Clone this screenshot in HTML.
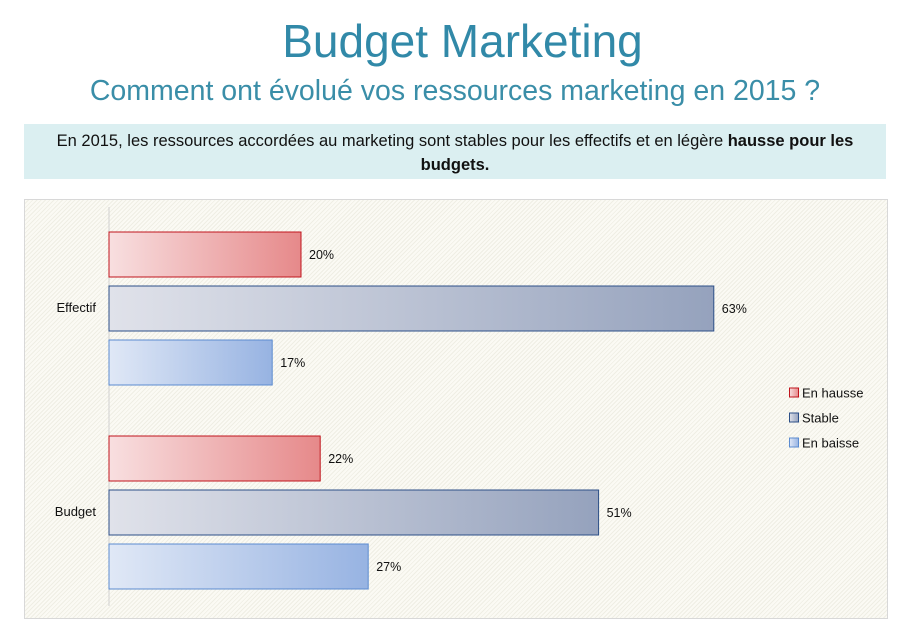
<!DOCTYPE html>
<html><head><meta charset="utf-8"><style>
body{margin:0;width:905px;height:606px;overflow:hidden;background:#fff;font-family:"Liberation Sans",sans-serif;position:relative}
#t{position:absolute;left:0;width:925px;top:14px;text-align:center;font-size:46px;color:#3189a8}
#s{position:absolute;left:0;width:910px;top:75px;text-align:center;font-size:28.5px;color:#3a8ea8}
#box{position:absolute;left:24px;top:124px;width:862px;height:55px;background:#dbeff1;text-align:center;font-size:16.5px;line-height:24px;padding-top:5px;box-sizing:border-box;color:#111}
#chart{position:absolute;left:24px;top:199px;width:864px;height:420px;border:1px solid #d8d8d8;box-sizing:border-box;
background:repeating-linear-gradient(135deg,#fbfaf4 0 2px,#efeee4 2px 3px)}
</style></head><body>
<div id="t">Budget Marketing</div>
<div id="s">Comment ont évolué vos ressources marketing en 2015 ?</div>
<div id="box">En 2015, les ressources accordées au marketing sont stables pour les effectifs et en légère <b>hausse pour les</b><br><b>budgets.</b></div>
<div id="chart"></div>
<svg id="svg" width="905" height="606" style="position:absolute;left:0;top:0">
<defs>
<linearGradient id="g0"><stop offset="0" stop-color="#f8dfe0"/><stop offset="1" stop-color="#e6898a"/></linearGradient>
<linearGradient id="g1"><stop offset="0" stop-color="#e0e2ea"/><stop offset="1" stop-color="#95a2bd"/></linearGradient>
<linearGradient id="g2"><stop offset="0" stop-color="#e0e8f6"/><stop offset="1" stop-color="#97b3e2"/></linearGradient>
</defs>
<line x1="109" y1="207" x2="109" y2="606" stroke="#d0d0d0" stroke-width="1"/>
</svg>
<script>
const categories=["Effectif","Budget"];
const seriesNames=["En hausse","Stable","En baisse"];
const hausse=[20,22];
const stable=[63,51];
const baisse=[17,27];
const svg=document.getElementById('svg');
const NS='http://www.w3.org/2000/svg';
const x=v=>109+v*9.6;
const catTop=[232,436];
const strokes=["#c0141c","#2c4f87","#5b8bd0"];
const series=[hausse,stable,baisse];
function mk(tag,attrs){const e=document.createElementNS(NS,tag);for(const k in attrs)e.setAttribute(k,attrs[k]);svg.appendChild(e);return e;}
categories.forEach((c,ci)=>{
  const t=mk('text',{x:96,y:catTop[ci]+80,'text-anchor':'end','font-size':13,fill:'#111','font-family':'Liberation Sans, sans-serif'});
  t.textContent=c;
  
  
  series.forEach((s,si)=>{
    const y=catTop[ci]+si*54;
    const r=mk('rect',{x:109,y:y,width:x(s[ci])-109,height:45,fill:'url(#g'+si+')',stroke:strokes[si],'stroke-width':1});
    
    
    const l=mk('text',{x:x(s[ci])+8,y:y+27,'font-size':12.5,fill:'#111','font-family':'Liberation Sans, sans-serif'});
    l.textContent=s[ci]+'%';
    
    
  });
});
seriesNames.forEach((n,i)=>{
  const y=388+i*25;
  const r=mk('rect',{x:789.5,y:y,width:9,height:9,fill:'url(#g'+i+')',stroke:strokes[i],'stroke-width':1});
  
  
  const t=mk('text',{x:802,y:y+9.5,'font-size':13,fill:'#111','font-family':'Liberation Sans, sans-serif'});
  t.textContent=n;
  
  
});
</script>
</body></html>
